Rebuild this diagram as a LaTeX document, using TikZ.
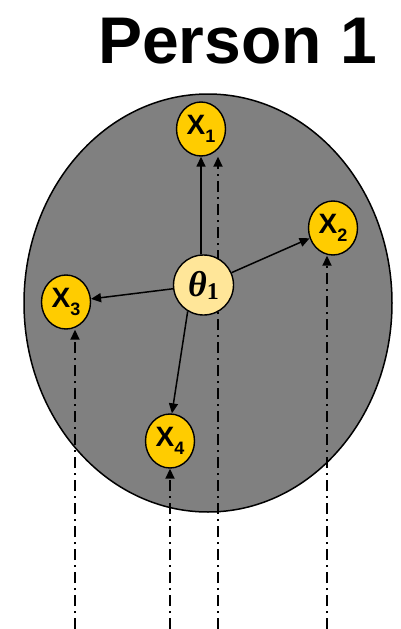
\documentclass[tikz,border=0pt]{standalone}
\usepackage{fontspec}
\setmainfont{Liberation Sans}
\newfontfamily\thetafont{Liberation Serif}
\usetikzlibrary{shapes.geometric,arrows.meta}
\definecolor{bggray}{HTML}{808080}
\definecolor{xyellow}{HTML}{FFCC00}
\definecolor{tyellow}{HTML}{FFE699}
\tikzset{
  xnode/.style={ellipse,draw=black,line width=1.4pt,fill=xyellow,minimum width=49pt,minimum height=54pt,inner sep=0pt,font=\bfseries\fontsize{28}{28}\selectfont},
  tnode/.style={circle,draw=black,line width=1.4pt,fill=tyellow,minimum size=60pt,inner sep=0pt},
  solidarrow/.style={line width=1.5pt,-{Triangle[length=10pt,width=9pt]}},
  dotarrow/.style={line width=1.8pt,dash pattern=on 11pt off 5pt on 2pt off 5pt,-{Triangle[length=10pt,width=9pt]}},
}
\newcommand{\xsub}[1]{X\raisebox{-0.28em}{\fontsize{18}{18}\selectfont #1}}
\begin{document}
\begin{tikzpicture}[x=1pt,y=-1pt]
\useasboundingbox (0,0) rectangle (400,629);
\node[anchor=base,font=\bfseries\fontsize{66}{66}\selectfont,inner sep=0pt] (title) at (237.5,63) {Person 1};
\node[ellipse,draw=black,line width=1.5pt,fill=bggray,minimum width=368pt,minimum height=418pt,inner sep=0pt] (body) at (208,303) {};
\node[xnode] (x1) at (201,129) {\xsub{1}};
\node[xnode] (x2) at (333,228) {\xsub{2}};
\node[xnode] (x3) at (66,302) {\xsub{3}};
\node[xnode] (x4) at (170,441) {\xsub{4}};
\coordinate (c1) at (218,629);
\coordinate (c2) at (327,629);
\coordinate (c3) at (75,629);
\coordinate (c4) at (170,629);
\draw[dotarrow] (c1) -- (c1 |- x1.south);
\draw[dotarrow] (c2) -- (c2 |- x2.south);
\draw[dotarrow] (c3) -- (c3 |- x3.south);
\draw[dotarrow] (c4) -- (c4 |- x4.south);
\node[tnode] (t) at (203.5,285) {\thetafont\bfseries{\itshape\fontsize{36}{36}\selectfont θ}\raisebox{-0.3em}{\fontsize{24}{24}\selectfont 1}};
\draw[solidarrow] (t.north -| x1) -- (x1.south);
\draw[solidarrow] (t) -- (x2);
\draw[solidarrow] (t) -- (x3);
\draw[solidarrow] (t.-121) -- (x4.86);
\end{tikzpicture}
\end{document}
